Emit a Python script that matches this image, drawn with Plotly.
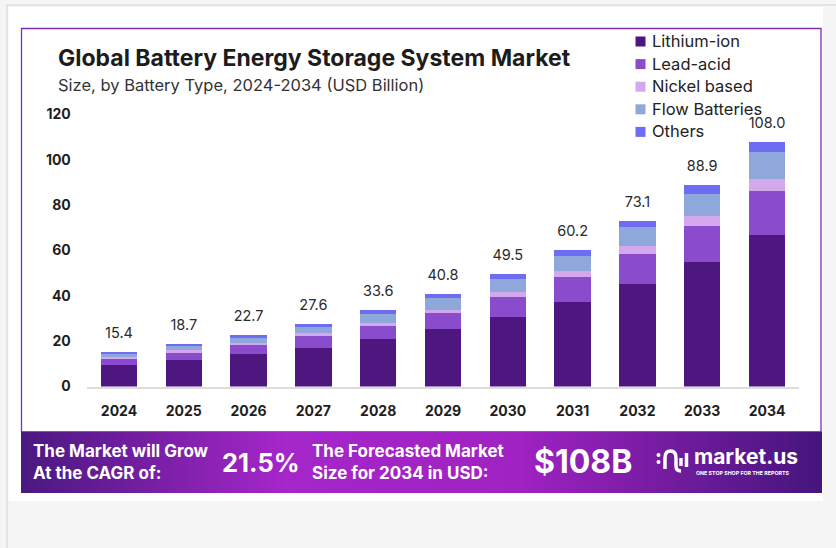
import plotly.graph_objects as go

W, H = 836, 548

# ---------------- data ----------------
years = ["2024", "2025", "2026", "2027", "2028", "2029", "2030", "2031", "2032", "2033", "2034"]
lithium_ion = [9.5, 11.6, 14.2, 17.1, 20.8, 25.2, 30.7, 37.3, 45.2, 55.1, 66.7]
lead_acid = [2.9, 3.8, 4.0, 5.0, 6.0, 7.1, 8.7, 10.9, 13.1, 15.9, 19.6]
nickel_based = [0.7, 0.7, 1.0, 1.4, 1.4, 1.5, 2.3, 2.8, 3.7, 4.4, 5.3]
flow_batteries = [1.4, 1.6, 2.2, 2.8, 3.8, 5.4, 5.8, 6.7, 8.2, 9.7, 11.7]
others = [0.9, 1.0, 1.3, 1.3, 1.6, 1.6, 2.0, 2.5, 2.9, 3.8, 4.7]
totals = [15.4, 18.7, 22.7, 27.6, 33.6, 40.8, 49.5, 60.2, 73.1, 88.9, 108.0]
series_names = ["Lithium-ion", "Lead-acid", "Nickel based", "Flow Batteries", "Others"]
y_ticks = [0, 20, 40, 60, 80, 100, 120]

title_text = "Global Battery Energy Storage System Market"
subtitle_text = "Size, by Battery Type, 2024-2034 (USD Billion)"
cagr_label = "The Market will Grow<br>At the CAGR of:"
cagr_value = "21.5%"
forecast_label = "The Forecasted Market<br>Size for 2034 in USD:"
forecast_value = "$108B"
brand = "market.us"
brand_tag = "ONE STOP SHOP FOR THE REPORTS"

# ---------------- styles ----------------
colors = ["#4e167f", "#8a4bcc", "#d4a8ec", "#8ea8db", "#6f6cf4"]
FONT = "Inter"


def px(x):
    return x / W


def py(y):
    return 1 - y / H


fig = go.Figure()

values = [lithium_ion, lead_acid, nickel_based, flow_batteries, others]
for name, vals, col in zip(series_names, values, colors):
    fig.add_trace(go.Bar(
        x=years, y=vals, name=name, width=0.56,
        marker=dict(color=col, line=dict(width=0)),
        showlegend=False, xaxis="x", yaxis="y",
    ))

# total labels above bars
fig.add_trace(go.Scatter(
    x=years, y=totals, mode="markers+text", text=[f"{t:.1f}" for t in totals],
    textposition="top center", marker=dict(size=15, color="rgba(0,0,0,0)"),
    textfont=dict(family=FONT, size=14.5, color="#2a2a2a"),
    cliponaxis=False, showlegend=False, hoverinfo="skip", xaxis="x", yaxis="y",
))

# banner with horizontal gradient
fig.add_trace(go.Scatter(
    x=[0, 1, 1, 0, 0], y=[0, 0, 1, 1, 0], mode="lines", fill="toself",
    line=dict(width=0),
    fillgradient=dict(type="horizontal",
                      colorscale=[[0, "#4a1880"], [0.33, "#a526c9"], [0.62, "#a022c2"], [1, "#45157c"]]),
    xaxis="x2", yaxis="y2", showlegend=False, hoverinfo="skip",
))

annotations = []

# title / subtitle
annotations.append(dict(x=px(56), y=py(58), xref="paper", yref="paper", text=title_text,
                        showarrow=False, xanchor="left", yanchor="middle",
                        font=dict(family=FONT, size=23, color="#1c1c1c", weight="bold")))
annotations.append(dict(x=px(56), y=py(85), xref="paper", yref="paper", text=subtitle_text,
                        showarrow=False, xanchor="left", yanchor="middle",
                        font=dict(family=FONT, size=16.5, color="#333333")))

shapes = []
# outer page / card
shapes.append(dict(type="rect", xref="paper", yref="paper", x0=px(7), x1=px(850), y0=py(620), y1=py(5),
                   fillcolor="#f5f5f5", line=dict(color="#dedede", width=1.5), layer="below"))
shapes.append(dict(type="rect", xref="paper", yref="paper", x0=px(8.5), x1=px(823), y0=py(501), y1=py(7),
                   fillcolor="#ffffff", line=dict(width=0), layer="below"))
shapes.append(dict(type="rect", xref="paper", yref="paper", x0=px(21.5), x1=px(821), y0=py(432), y1=py(28.5),
                   fillcolor="rgba(0,0,0,0)", line=dict(color="#7a2fb8", width=1.3), layer="below"))

# manual legend
for i, (name, col) in enumerate(zip(series_names, colors)):
    cy = 41.5 + i * 22.6
    shapes.append(dict(type="rect", xref="paper", yref="paper", x0=px(635.5), x1=px(645.5),
                       y0=py(cy + 5), y1=py(cy - 5), fillcolor=col, line=dict(width=0)))
    annotations.append(dict(x=px(650), y=py(cy - 0.5), xref="paper", yref="paper", text=name,
                            showarrow=False, xanchor="left", yanchor="middle",
                            font=dict(family=FONT, size=16.5, color="#222222")))

# banner texts
annotations.append(dict(x=px(31), y=py(462), xref="paper", yref="paper", text=cagr_label,
                        showarrow=False, xanchor="left", yanchor="middle", align="left",
                        font=dict(family=FONT, size=17, color="white", weight="bold")))
annotations.append(dict(x=px(220), y=py(462), xref="paper", yref="paper", text=cagr_value,
                        showarrow=False, xanchor="left", yanchor="middle",
                        font=dict(family=FONT, size=25.5, color="white", weight="bold")))
annotations.append(dict(x=px(310), y=py(462), xref="paper", yref="paper", text=forecast_label,
                        showarrow=False, xanchor="left", yanchor="middle", align="left",
                        font=dict(family=FONT, size=17, color="white", weight="bold")))
annotations.append(dict(x=px(532), y=py(461), xref="paper", yref="paper", text=forecast_value,
                        showarrow=False, xanchor="left", yanchor="middle",
                        font=dict(family=FONT, size=32, color="white", weight="bold")))
annotations.append(dict(x=px(693), y=py(456.5), xref="paper", yref="paper", text=brand,
                        showarrow=False, xanchor="left", yanchor="middle", borderpad=0,
                        font=dict(family=FONT, size=21, color="white", weight="bold")))
annotations.append(dict(x=px(695), y=py(472.5), xref="paper", yref="paper", text=brand_tag,
                        showarrow=False, xanchor="left", yanchor="middle", borderpad=0,
                        font=dict(family=FONT, size=5.3, color="white", weight="bold")))


# logo icon (rough)
def P(x, y):
    return f"{px(x):.5f},{py(y):.5f}"


for dy in (455, 462):
    shapes.append(dict(type="circle", xref="paper", yref="paper", x0=px(656.5), x1=px(660.5),
                       y0=py(dy + 2), y1=py(dy - 2), fillcolor="white", line=dict(width=0)))
shapes.append(dict(type="path", xref="paper", yref="paper",
                   path=f"M{P(665,469)} L{P(665,458)} Q{P(665,451)} {P(670.5,451)} Q{P(676,451)} {P(676,458)} L{P(676,466)} Q{P(676,471)} {P(681,471)}",
                   line=dict(color="white", width=3.5)))
shapes.append(dict(type="line", xref="paper", yref="paper", x0=px(681), x1=px(681), y0=py(466), y1=py(458),
                   line=dict(color="white", width=3.5)))
shapes.append(dict(type="line", xref="paper", yref="paper", x0=px(686.5), x1=px(686.5), y0=py(467), y1=py(453),
                   line=dict(color="white", width=3.5)))

fig.update_layout(
    width=W, height=H, autosize=False,
    margin=dict(l=0, r=0, t=0, b=0),
    paper_bgcolor="#f5f5f5", plot_bgcolor="rgba(0,0,0,0)",
    barmode="stack",
    showlegend=False,
    annotations=annotations,
    shapes=shapes,
    xaxis=dict(domain=[px(86.6), px(799.4)], type="category", range=[-0.5, 10.5],
               showgrid=False, zeroline=False, showline=True, linecolor="#dcdcdc", linewidth=2,
               ticks="outside", ticklen=11, tickcolor="rgba(0,0,0,0)", automargin=False,
               tickfont=dict(family=FONT, size=14, color="#1e1e1e", weight="bold"), fixedrange=True),
    yaxis=dict(domain=[py(386.5), py(114.5)], range=[0, 120], tickvals=y_ticks,
               showgrid=False, zeroline=False, showline=False, automargin=False,
               ticks="outside", ticklen=12, tickcolor="rgba(0,0,0,0)",
               tickfont=dict(family=FONT, size=14, color="#1e1e1e", weight="bold"), fixedrange=True),
    xaxis2=dict(domain=[px(21), px(822)], range=[0, 1], visible=False, fixedrange=True),
    yaxis2=dict(domain=[py(493), py(431.5)], range=[0, 1], visible=False, fixedrange=True),
)

fig.write_html("out.html")
